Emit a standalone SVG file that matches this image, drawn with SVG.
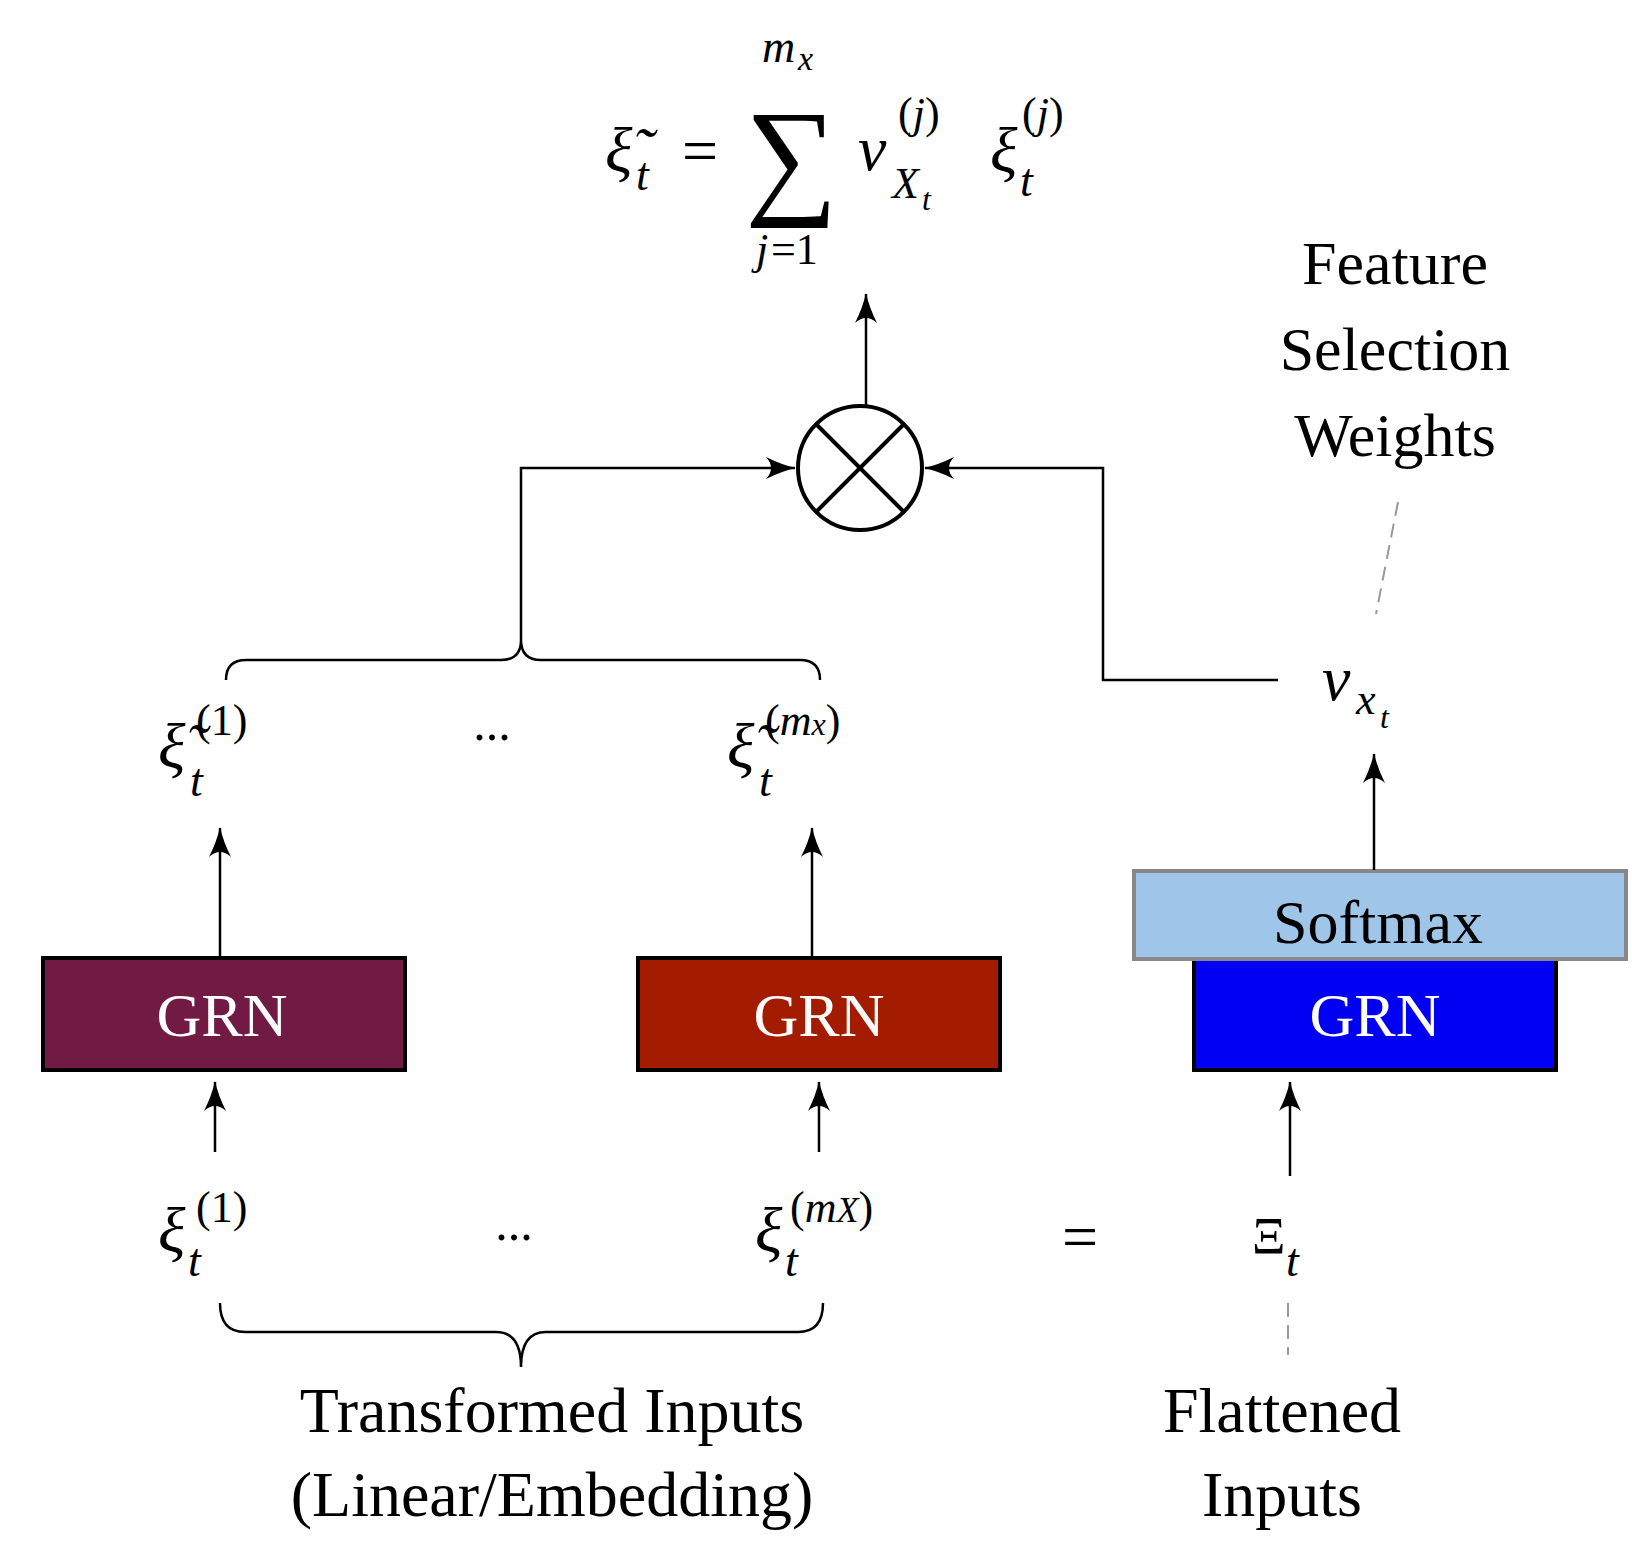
<svg xmlns="http://www.w3.org/2000/svg" width="1632" height="1550" viewBox="0 0 1632 1550">
<style>
.t{font-family:"Liberation Serif",serif;fill:#000}
.m{font-family:"Liberation Serif",serif;font-style:italic;fill:#000}
.w{font-family:"Liberation Serif",serif;fill:#fff;font-size:62px}
.ln{stroke:#000;stroke-width:2.5;fill:none}
</style>
<defs>
<marker id="b" markerWidth="30" markerHeight="22" refX="29" refY="11" orient="auto" markerUnits="userSpaceOnUse" viewBox="0 0 30 22">
<path d="M0,0 Q16,8 30,11 Q16,14 0,22 Q10,11 0,0 Z" fill="#000"/>
</marker>
</defs>
<rect width="1632" height="1550" fill="#fff"/>
<g id="formula">
<text class="m" x="605" y="172" font-size="64">ξ̃</text>
<text class="m" x="636" y="190" font-size="46">t</text>
<text class="t" x="682" y="172" font-size="64">=</text>
<text class="t" x="745" y="200" font-size="130">∑</text>
<text class="m" x="762" y="62" font-size="46">m</text>
<text class="m" x="798" y="70" font-size="34">x</text>
<text class="m" x="756" y="264" font-size="44">j</text>
<text class="t" x="771" y="264" font-size="44">=1</text>
<text class="m" x="858" y="170" font-size="64">v</text>
<text class="t" x="898" y="128" font-size="44">(<tspan font-style="italic">j</tspan>)</text>
<text class="m" x="892" y="198" font-size="44">X</text>
<text class="m" x="922" y="210" font-size="32">t</text>
<text class="m" x="990" y="172" font-size="64">ξ</text>
<text class="t" x="1022" y="128" font-size="44">(<tspan font-style="italic">j</tspan>)</text>
<text class="m" x="1020" y="196" font-size="46">t</text>
</g>
<g id="fsw">
<text class="t" x="1395" y="284" font-size="62" text-anchor="middle">Feature</text>
<text class="t" x="1395" y="370" font-size="62" text-anchor="middle">Selection</text>
<text class="t" x="1395" y="456" font-size="62" text-anchor="middle">Weights</text>
</g>
<g id="mult">
<circle cx="860" cy="468" r="62" fill="#fff" stroke="#000" stroke-width="4"/>
<line x1="816" y1="424" x2="904" y2="512" stroke="#000" stroke-width="4"/>
<line x1="904" y1="424" x2="816" y2="512" stroke="#000" stroke-width="4"/>
</g>
<g id="vxt">
<text class="m" x="1322" y="700" font-size="64">v</text>
<text class="m" x="1356" y="714" font-size="44">x</text>
<text class="m" x="1380" y="728" font-size="32">t</text>
</g>
<g id="xtilde1">
<text class="m" x="158" y="768" font-size="64">ξ̃</text>
<text class="m" x="190" y="796" font-size="46">t</text>
<text class="t" x="196" y="735" font-size="44">(1)</text>
</g>
<text class="t" x="492" y="740" font-size="50" text-anchor="middle">...</text>
<g id="xtilde2">
<text class="m" x="727" y="768" font-size="64">ξ̃</text>
<text class="m" x="759" y="796" font-size="46">t</text>
<text class="t" x="765" y="735" font-size="44">(<tspan font-style="italic">m</tspan><tspan font-style="italic" font-size="32">x</tspan>)</text>
</g>
<g id="grn1"><rect x="43" y="958" width="362" height="112" fill="#711a43" stroke="#000" stroke-width="4"/><text class="w" x="222" y="1036" text-anchor="middle">GRN</text></g>
<g id="grn2"><rect x="638" y="958" width="362" height="112" fill="#a31c00" stroke="#000" stroke-width="4"/><text class="w" x="819" y="1036" text-anchor="middle">GRN</text></g>
<g id="grn3"><rect x="1194" y="958" width="362" height="112" fill="#0000f2" stroke="#000" stroke-width="4"/><text class="w" x="1375" y="1036" text-anchor="middle">GRN</text></g>
<g id="softmax"><rect x="1134" y="871" width="492" height="88" fill="#9fc5e8" stroke="#888" stroke-width="4"/><text class="t" x="1378" y="943" font-size="62" text-anchor="middle">Softmax</text></g>
<g id="xi1">
<text class="m" x="158" y="1252" font-size="64">ξ</text>
<text class="m" x="188" y="1276" font-size="46">t</text>
<text class="t" x="196" y="1222" font-size="44">(1)</text>
</g>
<text class="t" x="514" y="1240" font-size="50" text-anchor="middle">...</text>
<g id="xi2">
<text class="m" x="755" y="1252" font-size="64">ξ</text>
<text class="m" x="785" y="1276" font-size="46">t</text>
<text class="t" x="790" y="1222" font-size="44">(<tspan font-style="italic">m</tspan><tspan font-style="italic" font-size="36">X</tspan>)</text>
</g>
<text class="t" x="1080" y="1258" font-size="64" text-anchor="middle">=</text>
<g id="Xi">
<text class="t" x="1252" y="1254" font-size="52">Ξ</text>
<text class="m" x="1286" y="1276" font-size="46">t</text>
</g>
<g id="labels">
<text class="t" x="552" y="1432" font-size="64" text-anchor="middle">Transformed Inputs</text>
<text class="t" x="552" y="1516" font-size="64" text-anchor="middle">(Linear/Embedding)</text>
<text class="t" x="1282" y="1432" font-size="64" text-anchor="middle">Flattened</text>
<text class="t" x="1282" y="1516" font-size="64" text-anchor="middle">Inputs</text>
</g>
<g id="connectors">
<line class="ln" x1="866" y1="406" x2="866" y2="294" marker-end="url(#b)"/>
<path class="ln" d="M226,680 Q226,660 246,660 L501,660 Q521,660 521,640 Q521,660 541,660 L800,660 Q820,660 820,680"/>
<polyline class="ln" points="521,640 521,468 795,468" marker-end="url(#b)"/>
<polyline class="ln" points="1278,680 1103,680 1103,468 925,468" marker-end="url(#b)"/>
<line x1="1398" y1="502" x2="1376" y2="614" stroke="#999" stroke-width="2" stroke-dasharray="14,8"/>
<line class="ln" x1="1374" y1="870" x2="1374" y2="754" marker-end="url(#b)"/>
<line class="ln" x1="220" y1="957" x2="220" y2="828" marker-end="url(#b)"/>
<line class="ln" x1="812" y1="957" x2="812" y2="828" marker-end="url(#b)"/>
<line class="ln" x1="215" y1="1152" x2="215" y2="1082" marker-end="url(#b)"/>
<line class="ln" x1="819" y1="1152" x2="819" y2="1082" marker-end="url(#b)"/>
<line class="ln" x1="1290" y1="1176" x2="1290" y2="1082" marker-end="url(#b)"/>
<path class="ln" d="M220,1303 Q220,1332 245,1332 L496,1332 Q521,1332 521,1367 Q521,1332 546,1332 L798,1332 Q823,1332 823,1303"/>
<line x1="1288" y1="1303" x2="1288" y2="1355" stroke="#999" stroke-width="2" stroke-dasharray="14,8"/>
</g>
</svg>
